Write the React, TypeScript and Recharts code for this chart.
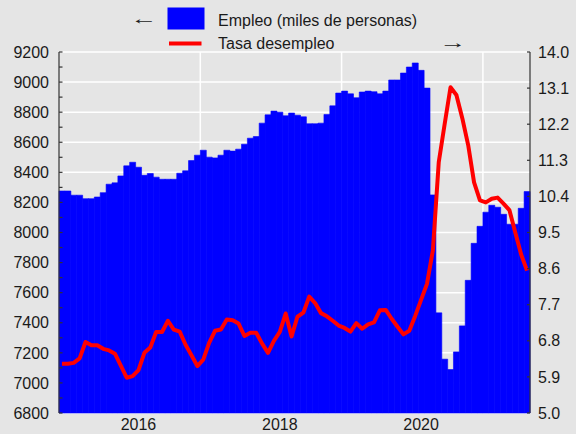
import {
    ComposedChart,
    Bar,
    Line,
    XAxis,
    YAxis,
    CartesianGrid,
} from 'recharts'

// monthly categories, Dec 2014 .. Jul 2021
const months: string[] = Array.from({ length: 80 }, (_, i) => {
    const m = 11 + i
    const y = 2014 + Math.floor(m / 12)
    return `${y}-${String((m % 12) + 1).padStart(2, '0')}`
})

// Empleo (miles de personas)
const empleo = [
    8276, 8276, 8248, 8248, 8225, 8225, 8236, 8265, 8321, 8330,
    8376, 8443, 8467, 8434, 8380, 8392, 8368, 8354, 8354, 8354,
    8394, 8410, 8478, 8514, 8547, 8501, 8496, 8514, 8547, 8541,
    8554, 8587, 8627, 8638, 8727, 8782, 8807, 8800, 8776, 8794,
    8780, 8769, 8723, 8723, 8727, 8785, 8842, 8927, 8940, 8922,
    8896, 8934, 8940, 8936, 8922, 8940, 9014, 9014, 9060, 9100,
    9127, 9078, 8960, 8250, 7466, 7158, 7089, 7206, 7379, 7682,
    7928, 8041, 8135, 8181, 8168, 8121, 8055, 8055, 8161, 8272,
]

// Tasa desempleo (%)
const desempleo = [
    6.23, 6.23, 6.25, 6.36, 6.77, 6.69, 6.69, 6.6, 6.56, 6.48,
    6.18, 5.88, 5.92, 6.07, 6.5, 6.63, 7.02, 7.02, 7.3, 7.08,
    7.03, 6.7, 6.44, 6.17, 6.33, 6.75, 7.05, 7.08, 7.33, 7.31,
    7.23, 6.92, 7.0, 7.0, 6.73, 6.5, 6.8, 7.02, 7.48, 6.91,
    7.4, 7.5, 7.9, 7.74, 7.49, 7.41, 7.3, 7.18, 7.12, 7.03,
    7.24, 7.1, 7.21, 7.26, 7.56, 7.57, 7.35, 7.15, 6.96, 7.05,
    7.42, 7.82, 8.22, 9.05, 11.25, 12.2, 13.12, 12.93, 12.35, 11.68,
    10.75, 10.3, 10.25, 10.34, 10.37, 10.22, 10.06, 9.5, 8.95, 8.55,
]

const yearTicks = ['2016-01', '2018-01', '2020-01']
const gridMonths = ['2016-12', '2018-12', '2020-12']
const leftTicks = [
    6800, 6900, 7000, 7100, 7200, 7300, 7400, 7500, 7600, 7700, 7800, 7900,
    8000, 8100, 8200, 8300, 8400, 8500, 8600, 8700, 8800, 8900, 9000, 9100,
    9200,
]
const leftGrid = leftTicks.filter((v) => v % 200 === 0)
const rightTicks = [5.0, 5.9, 6.8, 7.7, 8.6, 9.5, 10.4, 11.3, 12.2, 13.1, 14.0]

const data = months.map((m, i) => ({ m, emp: empleo[i], rate: desempleo[i] }))

const TEXT = '#1a1a1a'
const AXIS = '#333'
const W = 576
const H = 434
const LEFT_W = 59
const RIGHT_W = 46

// vertical grid at the start of the given month bands
const plotW = W - LEFT_W - RIGHT_W
const vGrid = gridMonths.map((m) => LEFT_W + (months.indexOf(m) * plotW) / months.length)

const LeftTick = (props: any) => {
    const { x, y, payload } = props
    const major = payload.value % 200 === 0
    return (
        <g>
            <line x1={x + 10} x2={x + 13.5} y1={y} y2={y} stroke={AXIS} strokeWidth={1.2} />
            {major && (
                <text x={x} y={y} dy="0.355em" textAnchor="end" fill={TEXT} fontSize={16}>
                    {payload.value}
                </text>
            )}
        </g>
    )
}

const RightTick = (props: any) => {
    const { x, y, payload } = props
    return (
        <g>
            <line x1={x - 8} x2={x - 11} y1={y} y2={y} stroke={AXIS} strokeWidth={1.2} />
            <text x={x} y={y} dy="0.355em" textAnchor="start" fill={TEXT} fontSize={16}>
                {Number(payload.value).toFixed(1)}
            </text>
        </g>
    )
}

const App = () => {
    return (
        <div
            style={{
                position: 'fixed',
                left: 0,
                top: 0,
                width: W,
                height: H,
                background: '#e5e5e5',
                fontFamily: '"Liberation Sans", Arial, sans-serif',
            }}
        >
            <ComposedChart
                width={W}
                height={H}
                data={data}
                margin={{ top: 52, right: 0, bottom: 0, left: 0 }}
                barCategoryGap={0}
                barGap={0}
            >
                <CartesianGrid
                    yAxisId="left"
                    horizontalValues={leftGrid}
                    verticalPoints={vGrid}
                    stroke="#ffffff"
                    strokeWidth={1.5}
                />
                <XAxis
                    dataKey="m"
                    ticks={yearTicks}
                    interval={0}
                    tickFormatter={(v: string) => v.slice(0, 4)}
                    tickLine={false}
                    axisLine={false}
                    tickSize={0}
                    tickMargin={6}
                    height={21}
                    tick={{ fill: TEXT, fontSize: 16 }}
                />
                <YAxis
                    yAxisId="left"
                    orientation="left"
                    width={LEFT_W}
                    domain={[6800, 9200]}
                    ticks={leftTicks}
                    interval={0}
                    tickSize={0}
                    tickMargin={10}
                    tickLine={false}
                    axisLine={{ stroke: AXIS, strokeWidth: 1.2 }}
                    tick={<LeftTick />}
                />
                <YAxis
                    yAxisId="right"
                    orientation="right"
                    width={RIGHT_W}
                    domain={[5, 14]}
                    ticks={rightTicks}
                    interval={0}
                    tickSize={0}
                    tickMargin={8}
                    tickLine={false}
                    axisLine={{ stroke: AXIS, strokeWidth: 1.2 }}
                    tick={<RightTick />}
                />
                <Bar
                    yAxisId="left"
                    dataKey="emp"
                    fill="#0000ff"
                    stroke="#0000ff"
                    strokeWidth={0.6}
                    isAnimationActive={false}
                />
                <Line
                    yAxisId="right"
                    type="linear"
                    dataKey="rate"
                    stroke="#ff0000"
                    strokeWidth={4}
                    strokeLinejoin="round"
                    dot={false}
                    activeDot={false}
                    isAnimationActive={false}
                />
            </ComposedChart>
            <svg
                width={W}
                height={52}
                style={{ position: 'absolute', left: 0, top: 0, pointerEvents: 'none' }}
            >
                <text
                    x={0}
                    y={0}
                    fontSize={16}
                    fill={TEXT}
                    transform="translate(130.5 24) scale(1.7 1)"
                >
                    ←
                </text>
                <rect x={167.5} y={7.5} width={37} height={22} fill="#0000ff" />
                <text x={218} y={25.5} fontSize={16} fill={TEXT}>
                    Empleo (miles de personas)
                </text>
                <line x1={169} x2={201.5} y1={43.4} y2={43.4} stroke="#ff0000" strokeWidth={4} />
                <text x={218} y={49} fontSize={16} fill={TEXT}>
                    Tasa desempleo
                </text>
                <text
                    x={0}
                    y={0}
                    fontSize={16}
                    fill={TEXT}
                    transform="translate(439.5 48) scale(1.7 1)"
                >
                    →
                </text>
            </svg>
        </div>
    )
}

export default App
